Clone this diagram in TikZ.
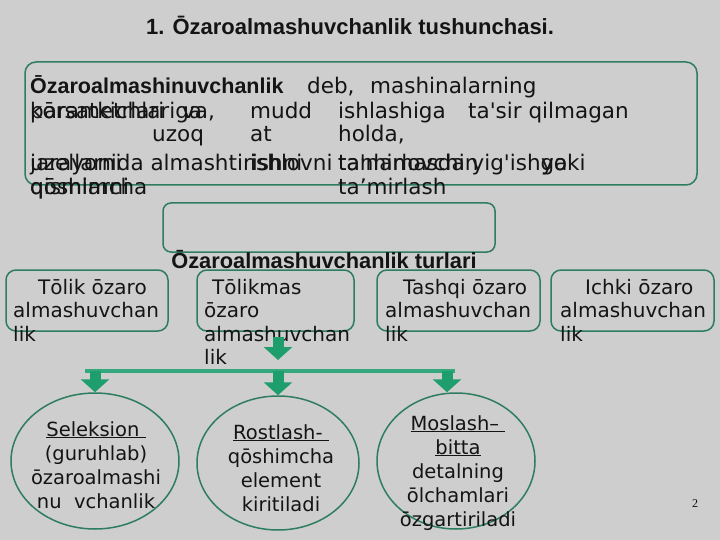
\documentclass[tikz,border=0pt]{standalone}
\usepackage{fontspec}
\setmainfont{DejaVu Sans}[Ligatures=TeXOff]
\newfontfamily\headfont{Liberation Sans}
\newfontfamily\numfont{Liberation Serif}
\usepackage{xcolor}
\usepackage{graphicx}
\usetikzlibrary{calc, positioning, shapes.geometric, arrows.meta}

\definecolor{slidebg}{HTML}{CECECE}
\definecolor{boxline}{HTML}{2E7D5E}
\definecolor{arrowfill}{HTML}{1E9E6C}
\definecolor{barfill}{HTML}{35A97E}
\definecolor{ink}{HTML}{141414}

\tikzset{
  card/.style={draw=boxline, line width=1.5pt, rounded corners=11pt},
  word/.style={anchor=base west, inner sep=0pt, text=ink, font=\fontsize{21.5}{25}\selectfont},
  boldword/.style={word, font=\headfont\bfseries\fontsize{21.5}{25}\selectfont},
  boxtext/.style={anchor=north west, inner sep=0pt, align=left, text=ink, font=\fontsize{20}{23.5}\selectfont},
  oval/.style={draw=boxline, line width=1.5pt, ellipse, inner sep=0pt},
  ovaltext/.style={anchor=north, inner sep=0pt, align=center, text=ink, font=\fontsize{19.5}{24}\selectfont},
  fatarrow/.style={draw=arrowfill, line width=11pt, -{Triangle[length=13pt, width=28pt]}},
}

\begin{document}
\begin{tikzpicture}[x=1pt, y=-1pt]
  % background %
  \fill[slidebg] (0,0) rectangle (720,540);
  \useasboundingbox (0,0) rectangle (720,540);

  % title %
  \node[anchor=base, inner sep=0pt, text=ink, font=\headfont\bfseries\fontsize{22}{26}\selectfont]
    (title) at (350,35) {1. Ōzaroalmashuvchanlik tushunchasi.};

  % definition box %
  \draw[card] (25,62) rectangle (697,185);
  \coordinate (intro) at (25,62);
  \node[boldword] (w1) at (30,94) {Ōzaroalmashinuvchanlik};
  \node[word] (w2) at (307,94) {deb,};
  \node[word] (w3) at (370,94) {mashinalarning};
  \node[word] (w4) at (30,119) {kōrsatkichlariga};
  \node[word] (w4b) at (30,119) {parametrlari};
  \node[word] (w5) at (182,119) {va,};
  \node[word] (w6) at (250,119) {mudd};
  \node[word] (w7) at (338,119) {ishlashiga};
  \node[word] (w8) at (468,119) {ta'sir qilmagan};
  \node[word] (w9) at (152,142) {uzoq};
  \node[word] (w10) at (250,142) {at};
  \node[word] (w11) at (338,142) {holda,};
  \node[word] (w12) at (30,171) {jarayonida almashtirishni};
  \node[word] (w12b) at (30,171) {uzellarni};
  \node[word] (w13) at (250,171) {ishlovni};
  \node[word] (w14) at (338,171) {ta'mirlovchi yig'ishga};
  \node[word] (w14b) at (338,171) {tanlamasdan};
  \node[word] (w15) at (541,171) {yoki};
  \node[word] (w16) at (30,195) {qōshimcha};
  \node[word] (w16b) at (30,195) {qismlarni};
  \node[word] (w17) at (338,195) {ta’mirlash};

  % empty box and heading %
  \draw[card, rounded corners=8pt] (163,203) rectangle (495,252);
  \node[anchor=base, inner sep=0pt, text=ink, font=\headfont\bfseries\fontsize{21.8}{25}\selectfont]
    (kinds) at (324,268) {Ōzaroalmashuvchanlik turlari};

  % kinds boxes %
  \draw[card, rounded corners=10pt] (6,270) rectangle (168,331);
  \draw[card, rounded corners=10pt] (197,270) rectangle (354,331);
  \draw[card, rounded corners=10pt] (377,270) rectangle (540,331);
  \draw[card, rounded corners=10pt] (551,270) rectangle (714,331);
  \coordinate (tolikmas) at (278,331);
  \node[boxtext] (tolik) at (13,279) {\hspace*{25pt}Tōlik ōzaro\\almashuvchan\\lik};
  \node[boxtext] (tmas) at (204,279) {\hspace*{8pt}Tōlikmas\\ōzaro\\almashuvchan\\lik};
  \node[boxtext] (tashqi) at (385,279) {\hspace*{18pt}Tashqi ōzaro\\almashuvchan\\lik};
  \node[boxtext] (ichki) at (560,279) {\hspace*{25pt}Ichki ōzaro\\almashuvchan\\lik};

  % ovals %
  \node[oval, minimum width=168pt, minimum height=136pt] (sel) at (95,461) {};
  \node[oval, minimum width=162pt, minimum height=134pt] (rost) at (278,463) {};
  \node[oval, minimum width=158pt, minimum height=136pt] (mosl) at (456,461) {};
  \node[ovaltext] (seltext) at (96,421) {\underline{Seleksion\ }\\(guruhlab)\\ōzaroalmashi\\nu\ \ vchanlik};
  \node[ovaltext] (rosttext) at (281,424) {\underline{Rostlash-\ }\\qōshimcha\\element\\kiritiladi};
  \node[ovaltext] (mosltext) at (458,415) {\underline{Moslash–\ }\\\underline{bitta}\\detalning\\ōlchamlari\\ōzgartiriladi};

  % bar and arrows %
  \coordinate (bar w) at (85,371);
  \coordinate (bar e) at (455,371);
  \draw[barfill, line width=3.5pt] (bar w) -- (bar e);
  \draw[fatarrow] ($(tolikmas)+(0,6)$) -- ($(tolikmas)+(0,29)$);
  \draw[fatarrow] (sel.north |- bar w) -- (sel.north);
  \draw[fatarrow] (rost.north |- bar w) -- (rost.north);
  \draw[fatarrow] ($(mosl.north |- bar w)+(-9,0)$) -- ($(mosl.north)+(-9,0)$);

  % page number %
  \node[anchor=base, inner sep=0pt, text=ink, font=\numfont\fontsize{12}{14}\selectfont] (page) at (695,507) {2};
\end{tikzpicture}
\end{document}
